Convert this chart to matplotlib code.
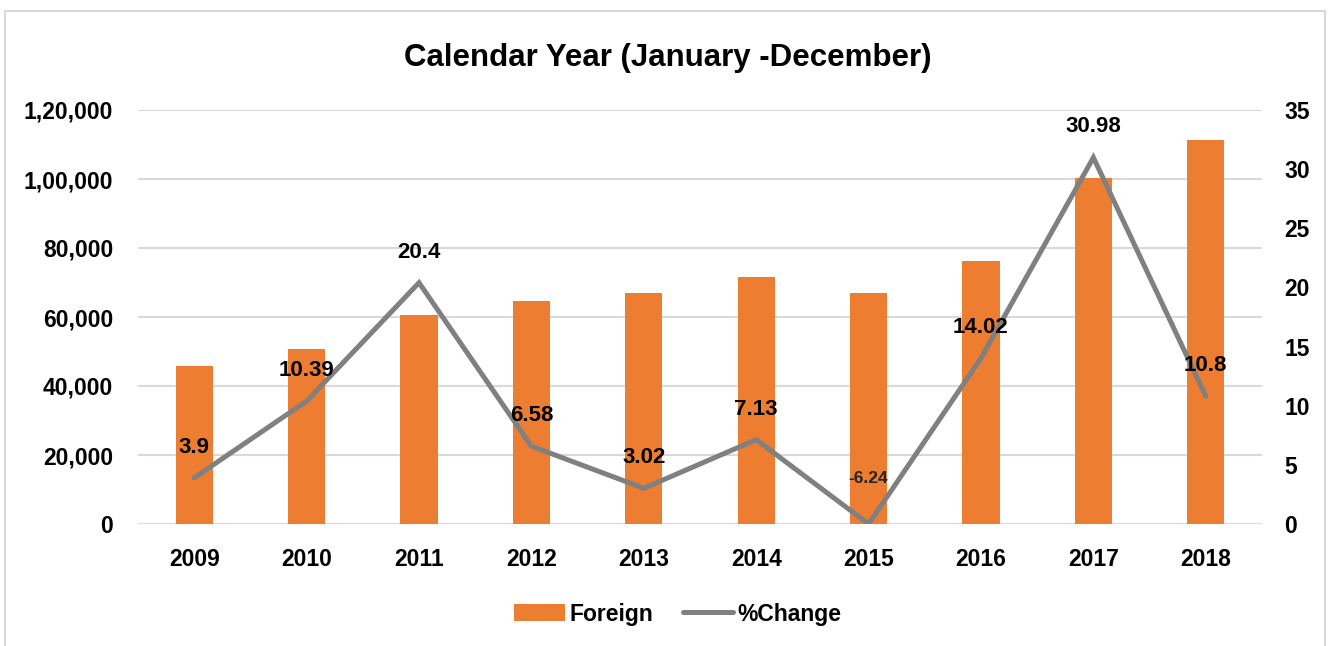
import numpy as np
import matplotlib.pyplot as plt
from matplotlib.patches import Rectangle
from matplotlib.ticker import FuncFormatter

years = ['2009', '2010', '2011', '2012', '2013', '2014', '2015', '2016', '2017', '2018']
foreign = [45800, 50700, 60700, 64700, 67000, 71700, 67100, 76300, 100300, 111300]
pct_change = [3.9, 10.39, 20.4, 6.58, 3.02, 7.13, -6.24, 14.02, 30.98, 10.8]

plt.rcParams['font.family'] = ['Liberation Sans', 'DejaVu Sans']
plt.rcParams['font.weight'] = 'bold'

ORANGE = '#ED7D31'
GREY = '#808080'
GRID = '#d9d9d9'


def indian(v, pos=None):
    # 120000 -> 1,20,000
    s = str(int(round(v)))
    if len(s) <= 3:
        return s
    head, tail = s[:-3], s[-3:]
    parts = []
    while len(head) > 2:
        parts.insert(0, head[-2:])
        head = head[:-2]
    if head:
        parts.insert(0, head)
    return ','.join(parts) + ',' + tail


fig = plt.figure(figsize=(13.28, 6.46), dpi=100)
ax = fig.add_axes([138 / 1328, 1 - 524 / 646, 1124 / 1328, 414 / 646])
ax2 = ax.twinx()

x = np.arange(len(years))
ax.bar(x, foreign, width=0.33, color=ORANGE, zorder=2, label='Foreign')
ax.set_ylim(0, 120000)
ax.set_yticks(np.arange(0, 120001, 20000))
ax.yaxis.set_major_formatter(FuncFormatter(indian))
ax.set_xlim(-0.5, len(years) - 0.5)
ax.set_xticks(x)
ax.set_xticklabels(years)
ax.grid(axis='y', color=GRID, linewidth=1.5, zorder=0)
ax.set_axisbelow(True)

# values below the axis minimum sit on the axis, like the original
plotted = np.maximum(pct_change, 0)
ax2.plot(x, plotted, color=GREY, linewidth=3.6, solid_capstyle='round',
         solid_joinstyle='miter', label='%Change', zorder=3)
ax2.set_ylim(0, 35)
ax2.set_yticks(np.arange(0, 36, 5))

for xi, yi, v in zip(x, plotted, pct_change):
    small = v < 0
    ax2.annotate(f'{v:g}', (xi, yi), xytext=(0, 33 if small else 22),
                 textcoords='offset points', ha='center', va='center',
                 fontsize=12.5 if small else 16, fontweight='bold',
                 color='#262626' if small else 'black')

for a in (ax, ax2):
    for sp in a.spines.values():
        sp.set_visible(False)
    a.tick_params(length=0, labelsize=16.5, colors='black')
ax.tick_params(axis='y', pad=18)
ax.tick_params(axis='x', pad=17)
ax2.tick_params(axis='y', pad=16)

fig.text(668 / 1328, 1 - 58 / 646, 'Calendar Year (January -December)',
         ha='center', va='center', fontsize=22.5, fontweight='bold')

h1, l1 = ax.get_legend_handles_labels()
h2, l2 = ax2.get_legend_handles_labels()
fig.legend(h1 + h2, l1 + l2, loc='center', bbox_to_anchor=(678 / 1328, 1 - 614 / 646),
           ncol=2, frameon=False, fontsize=16.5, handlelength=2.2,
           handletextpad=0.2, columnspacing=1.3)

fig.patches.append(Rectangle((5 / 1328, -0.05), 1320 / 1328, 1.05 - 11 / 646,
                             transform=fig.transFigure, fill=False,
                             edgecolor='#d9d9d9', linewidth=1.5))

fig.savefig('out.png', dpi=100)
